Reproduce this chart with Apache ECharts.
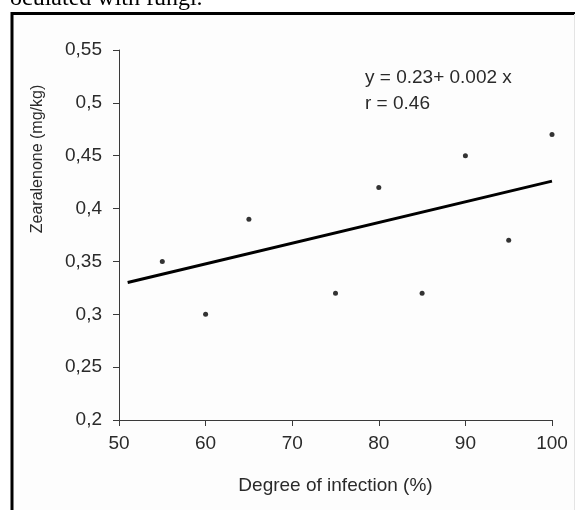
<!DOCTYPE html>
<html>
<head>
<meta charset="utf-8">
<script src="https://cdn.jsdelivr.net/npm/echarts@6/dist/echarts.min.js"></script>
<style>
html,body{margin:0;padding:0;background:#fff;}
#chart{width:575px;height:510px;}
</style>
</head>
<body>
<div id="chart"></div>
<script>
var infection = [55, 60, 65, 75, 80, 85, 90, 95, 100];
var zearalenone = [0.35, 0.30, 0.39, 0.32, 0.42, 0.32, 0.45, 0.37, 0.47];
var fitX = [51, 100];
var fitY = [0.33, 0.426];
var equationLines = ['y = 0.23+ 0.002 x', 'r = 0.46'];
var captionText = 'oculated with fungi.';
var yAxisTitle = 'Zearalenone (mg/kg)';
var xAxisTitle = 'Degree of infection (%)';

var pts = infection.map(function (x, i) { return [x, zearalenone[i]]; });
var fit = fitX.map(function (x, i) { return [x, fitY[i]]; });

var chart = echarts.init(document.getElementById('chart'), null, {renderer: 'canvas'});
var font = 'Liberation Sans, Arial, sans-serif';
var axisCol = '#3a3a3a';
var textCol = '#2a2a2a';
chart.setOption({
  animation: false,
  backgroundColor: '#ffffff',
  grid: {left: 119, right: 23, top: 50, bottom: 90, containLabel: false},
  xAxis: {
    type: 'value', min: 50, max: 100, interval: 10,
    name: xAxisTitle, nameLocation: 'middle', nameGap: 56,
    nameTextStyle: {fontFamily: font, fontSize: 19, color: textCol},
    axisLine: {show: true, onZero: false, lineStyle: {color: axisCol, width: 1}},
    axisTick: {show: true, inside: false, length: 6, lineStyle: {color: axisCol}},
    axisLabel: {margin: 14, fontFamily: font, fontSize: 19, color: textCol},
    splitLine: {show: false}
  },
  yAxis: {
    type: 'value', min: 0.2, max: 0.55, interval: 0.05,
    axisLine: {show: true, onZero: false, lineStyle: {color: axisCol, width: 1}},
    axisTick: {show: true, inside: false, length: 6, lineStyle: {color: axisCol}},
    axisLabel: {margin: 17, fontFamily: font, fontSize: 19, color: textCol,
      formatter: function (v) { return String(+v.toFixed(2)).replace('.', ','); }},
    splitLine: {show: false}
  },
  series: [
    {type: 'line', data: fit, showSymbol: false, symbol: 'none',
     lineStyle: {color: '#000', width: 3}, z: 2},
    {type: 'scatter', data: pts, symbol: 'circle', symbolSize: 5,
     itemStyle: {color: '#000'}, z: 3}
  ],
  graphic: [
    {type: 'rect', shape: {x: 0, y: 0, width: 575, height: 510}, style: {fill: '#fff'}, z: -10, silent: true},
    {type: 'rect', shape: {x: 13, y: 14, width: 561, height: 496}, style: {fill: '#fdfdfd'}, z: -9, silent: true},
    {type: 'line', shape: {x1: 12, y1: 12, x2: 12, y2: 510}, style: {stroke: '#000', lineWidth: 3}, z: 10},
    {type: 'line', shape: {x1: 11, y1: 13.5, x2: 575, y2: 13.5}, style: {stroke: '#000', lineWidth: 3}, z: 10},
    {type: 'line', shape: {x1: 574.5, y1: 14, x2: 574.5, y2: 510}, style: {stroke: '#e4e4e4', lineWidth: 1}, z: 10},
    {type: 'text', left: 10, top: -13, style: {text: captionText, font: '24px "Liberation Serif", "Times New Roman", serif', fill: '#000'}, z: 10},
    {type: 'text', x: 365, y: 68, style: {text: equationLines[0], font: '19px ' + font, fill: textCol}, z: 10},
    {type: 'text', x: 365, y: 94, style: {text: equationLines[1], font: '19px ' + font, fill: textCol}, z: 10},
    {type: 'text', x: 38, y: 159, rotation: Math.PI / 2,
     style: {text: yAxisTitle, font: '16px ' + font, fill: textCol, textAlign: 'center', textVerticalAlign: 'middle'}, z: 10}
  ]
});
</script>
</body>
</html>
